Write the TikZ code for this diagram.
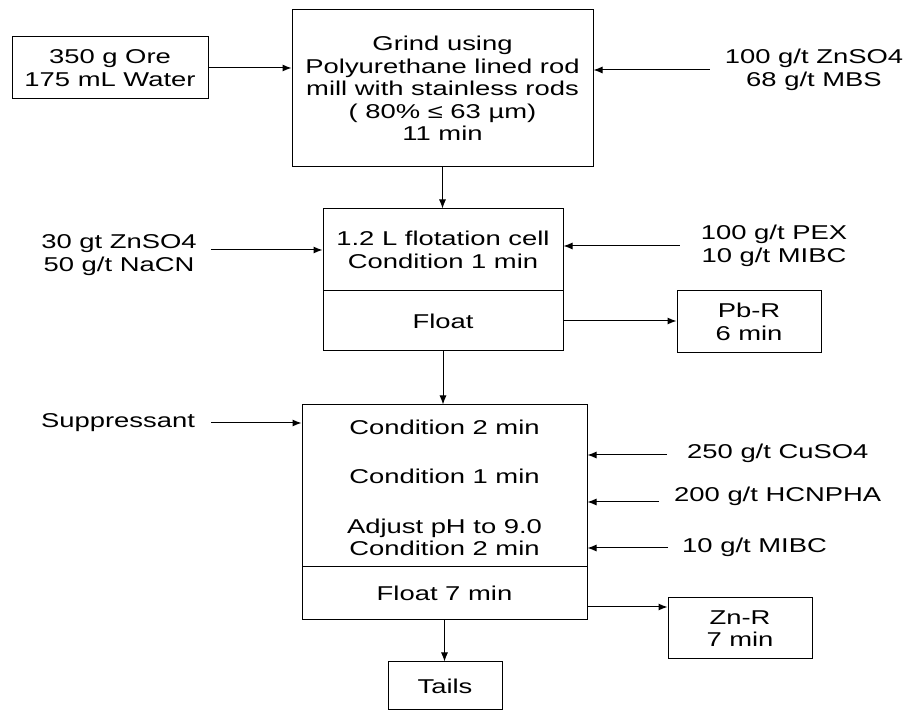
\documentclass[tikz,border=0pt]{standalone}
\usepackage{fontspec}
\setmainfont{Liberation Sans}[FakeStretch=1.37]
\usetikzlibrary{arrows.meta}
\begin{document}
\begin{tikzpicture}[x=1pt,y=1pt,
    box/.style={draw, line width=1pt, inner sep=0pt, align=center,
      font=\fontsize{20}{22.5}\selectfont},
    txt/.style={inner sep=0pt, align=center, font=\fontsize{20}{22.5}\selectfont},
    arr/.style={line width=1pt, -{Latex[length=9pt,width=7pt]}}]
  \useasboundingbox (0,0) rectangle (909,711);
  % grinding
  \node[box, minimum width=196pt, minimum height=62pt] (ore) at (110,643) {350 g Ore\\175 mL Water};
  \node[box, minimum width=301pt, minimum height=157pt] (grind) at (442.5,622.5)
    {Grind using\\Polyurethane lined rod\\mill with stainless rods\\( 80\% ≤ 63 µm)\\11 min};
  \node[txt] (mbs) at (814,641) {100 g/t ZnSO4\\68 g/t MBS};
  \draw[arr] (ore.east) -- (ore.east -| grind.west);
  \draw[arr] ([xshift=-15pt]mbs.west) -- (mbs.west -| grind.east);
  % lead flotation
  \node[box, minimum width=240pt, minimum height=82pt] (cell) at (443,461) {1.2 L flotation cell\\Condition 1 min};
  \node[box, minimum width=240pt, minimum height=60pt] (float1) at (443,390) {Float};
  \node[txt] (nacn) at (119,456) {30 gt ZnSO4\\50 g/t NaCN};
  \node[txt] (pex) at (774,465) {100 g/t PEX\\10 g/t MIBC};
  \node[box, minimum width=144pt, minimum height=62pt] (pbr) at (749,389) {Pb-R\\6 min};
  \draw[arr] (grind.south) -- (grind.south |- cell.north);
  \draw[arr] ([xshift=14pt]nacn.east |- cell.west) -- (cell.west);
  \draw[arr] ([xshift=-21pt]pex.west) -- (pex.west -| cell.east);
  \draw[arr] (float1.east) -- (float1.east -| pbr.west);
  % zinc flotation
  \node[box, minimum width=285pt, minimum height=162pt] (cond) at (444.5,225) {};
  \node[box, minimum width=285pt, minimum height=53pt] (float2) at (444.5,117.5) {Float 7 min};
  \node[txt] (condA) at (444.5,284) {Condition 2 min};
  \node[txt] (condB) at (444.5,235) {Condition 1 min};
  \node[txt] (condC) at (444.5,173.5) {Adjust pH to 9.0\\Condition 2 min};
  \node[txt] (supp) at (118,288) {Suppressant};
  \node[txt, anchor=west] (cuso) at (687,258) {250 g/t CuSO4};
  \node[txt, anchor=west] (hcn) at (674,215) {200 g/t HCNPHA};
  \node[txt, anchor=west] (mibc) at (682,164) {10 g/t MIBC};
  \node[box, minimum width=144pt, minimum height=61pt] (znr) at (740,82.5) {Zn-R\\7 min};
  \node[box, minimum width=114pt, minimum height=48pt] (tails) at (445,25) {Tails};
  \draw[arr] (float1.south) -- (float1.south |- cond.north);
  \draw[arr] ([xshift=16pt]supp.east) -- (supp.east -| cond.west);
  \draw[arr] ([xshift=-20pt,yshift=-2pt]cuso.west) coordinate (cu0) -- (cu0 -| cond.east);
  \draw[arr] ([xshift=-15pt,yshift=-6pt]hcn.west) coordinate (hc0) -- (hc0 -| cond.east);
  \draw[arr] ([xshift=-14pt,yshift=-1pt]mibc.west) coordinate (mi0) -- (mi0 -| cond.east);
  \draw[arr] ([yshift=-13.5pt]float2.east) coordinate (zn0) -- (zn0 -| znr.west);
  \draw[arr] (float2.south) -- (float2.south |- tails.north);
\end{tikzpicture}
\end{document}
